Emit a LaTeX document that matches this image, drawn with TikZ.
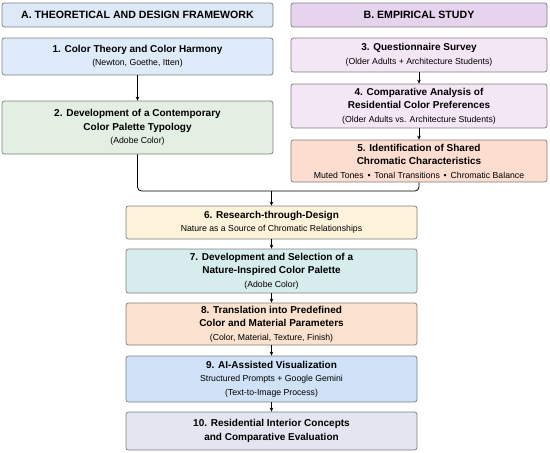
\documentclass[tikz,border=0pt]{standalone}
\usepackage{fontspec}
\setmainfont{Liberation Sans}
\usepackage{tikz}
\usetikzlibrary{arrows.meta}

\definecolor{hdAfill}{HTML}{DDE9F7}
\definecolor{hdBfill}{HTML}{E6D3EE}
\definecolor{blueA}{HTML}{DEEBFA}
\definecolor{greenA}{HTML}{E3EFE2}
\definecolor{lilacB}{HTML}{F3E6F5}
\definecolor{salmonB}{HTML}{FCDDD0}
\definecolor{yellowC}{HTML}{FDF2DA}
\definecolor{tealC}{HTML}{D7ECEC}
\definecolor{peachC}{HTML}{FAE2CF}
\definecolor{skyC}{HTML}{CFE2F8}
\definecolor{greyC}{HTML}{E3E6F0}
\definecolor{edge}{HTML}{7F7F7F}

\newcommand{\subline}[1]{{\mdseries\fontsize{8.7}{13}\selectfont #1}}

\tikzset{
  stage/.style={draw=edge, line width=0.7pt, rounded corners=2.5pt, align=center,
    inner sep=0pt, font=\fontsize{10}{13.5}\selectfont\bfseries},
  header/.style={stage, font=\fontsize{10.6}{12}\selectfont\bfseries},
  flow/.style={line width=0.8pt, -{Stealth[length=4pt,width=3.5pt]}},
}

\begin{document}
\begin{tikzpicture}[x=1pt,y=-1pt]
\useasboundingbox (0,0) rectangle (550,453);

% column headers
\node[header, fill=hdAfill, minimum width=271pt, minimum height=24pt] (hdA) at (137.5,15) {A. THEORETICAL AND DESIGN FRAMEWORK};
\node[header, fill=hdBfill, minimum width=256pt, minimum height=24pt] (hdB) at (419,15) {B. EMPIRICAL STUDY};

% left column
\node[stage, fill=blueA, minimum width=271pt, minimum height=37pt] (s1) at (137.5,56.5)
  {1. Color Theory and Color Harmony\\\subline{(Newton, Goethe, Itten)}};
\node[stage, fill=greenA, minimum width=271pt, minimum height=53pt] (s2) at (137.5,127.5)
  {2. Development of a Contemporary\\Color Palette Typology\\\subline{(Adobe Color)}};

% right column
\node[stage, fill=lilacB, minimum width=256pt, minimum height=34pt] (s3) at (419,55)
  {3. Questionnaire Survey\\\subline{(Older Adults + Architecture Students)}};
\node[stage, fill=lilacB, minimum width=256pt, minimum height=44pt] (s4) at (419,106)
  {4. Comparative Analysis of\\Residential Color Preferences\\\subline{(Older Adults vs. Architecture Students)}};
\node[stage, fill=salmonB, minimum width=256pt, minimum height=42pt] (s5) at (419,161)
  {5. Identification of Shared\\Chromatic Characteristics\\\subline{Muted Tones \,•\, Tonal Transitions \,•\, Chromatic Balance}};

% joint sequence
\node[stage, fill=yellowC, minimum width=291pt, minimum height=33pt] (s6) at (271.5,222.5)
  {6. Research-through-Design\\\subline{Nature as a Source of Chromatic Relationships}};
\node[stage, fill=tealC, minimum width=291pt, minimum height=44pt] (s7) at (271.5,271)
  {7. Development and Selection of a\\Nature-Inspired Color Palette\\\subline{(Adobe Color)}};
\node[stage, fill=peachC, minimum width=291pt, minimum height=42pt] (s8) at (271.5,324)
  {8. Translation into Predefined\\Color and Material Parameters\\\subline{(Color, Material, Texture, Finish)}};
\node[stage, fill=skyC, minimum width=291pt, minimum height=46pt] (s9) at (271.5,379)
  {9. AI-Assisted Visualization\\\subline{Structured Prompts + Google Gemini}\\\subline{(Text-to-Image Process)}};
\node[stage, fill=greyC, minimum width=291pt, minimum height=38pt] (s10) at (271.5,431)
  {10. Residential Interior Concepts\\and Comparative Evaluation};

\coordinate (join) at (271.5,191);

% connectors
\draw[flow] (s1) -- (s2);
\draw[flow] (s3) -- (s4);
\draw[flow] (s4) -- (s5);
\draw[line width=0.8pt, rounded corners=4pt] (s2.south) |- (join);
\draw[line width=0.8pt, rounded corners=4pt] (s5.south) |- (join);
\draw[flow] (join) -- (s6);
\draw[flow] (s6) -- (s7);
\draw[flow] (s7) -- (s8);
\draw[flow] (s8) -- (s9);
\draw[flow] (s9) -- (s10);
\end{tikzpicture}
\end{document}
